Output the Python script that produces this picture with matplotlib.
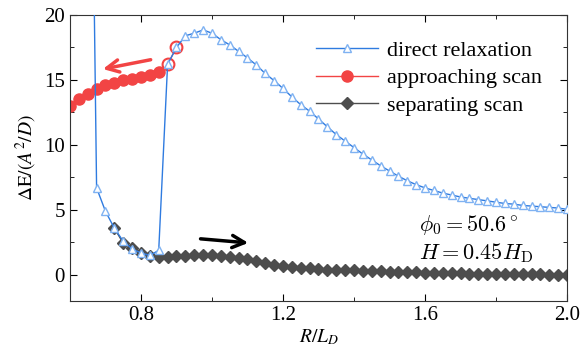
import matplotlib
matplotlib.use('Agg')
import matplotlib.pyplot as plt
import numpy as np

plt.rcParams['font.family'] = ['Liberation Serif', 'DejaVu Serif']
plt.rcParams['mathtext.fontset'] = 'stix'

# direct relaxation
r_direct = [0.65, 0.675, 0.70, 0.725, 0.75, 0.775, 0.80, 0.825, 0.85, 0.875,
            0.90, 0.925, 0.95, 0.975, 1.0, 1.025, 1.05, 1.075, 1.1, 1.125,
            1.15, 1.175, 1.2, 1.225, 1.25, 1.275, 1.3, 1.325, 1.35, 1.375,
            1.4, 1.425, 1.45, 1.475, 1.5, 1.525, 1.55, 1.575, 1.6, 1.625,
            1.65, 1.675, 1.7, 1.725, 1.75, 1.775, 1.8, 1.825, 1.85, 1.875,
            1.9, 1.925, 1.95, 1.975, 2.0]
e_direct = [60.0, 6.7, 4.9, 3.6, 2.6, 2.0, 1.7, 1.5, 1.9, 16.2,
            17.5, 18.4, 18.6, 18.85, 18.6, 18.1, 17.7, 17.2, 16.7, 16.15,
            15.5, 14.95, 14.35, 13.7, 13.1, 12.6, 12.0, 11.4, 10.8, 10.3,
            9.8, 9.3, 8.85, 8.4, 8.0, 7.6, 7.25, 6.95, 6.7, 6.5,
            6.3, 6.15, 6.0, 5.9, 5.8, 5.7, 5.6, 5.5, 5.45, 5.35,
            5.3, 5.25, 5.2, 5.15, 5.05]

# approaching scan
r_appr = [0.60, 0.625, 0.65, 0.675, 0.70, 0.725, 0.75, 0.775, 0.80, 0.825,
          0.85, 0.875, 0.90]
e_appr = [13.0, 13.55, 13.95, 14.3, 14.6, 14.8, 15.0, 15.1, 15.2, 15.35,
          15.65, 16.2, 17.5]

# separating scan
r_sep = [0.725, 0.75, 0.775, 0.80, 0.825, 0.85, 0.875, 0.90, 0.925, 0.95,
         0.975, 1.0, 1.025, 1.05, 1.075, 1.1, 1.125, 1.15, 1.175, 1.2,
         1.225, 1.25, 1.275, 1.3, 1.325, 1.35, 1.375, 1.4, 1.425, 1.45,
         1.475, 1.5, 1.525, 1.55, 1.575, 1.6, 1.625, 1.65, 1.675, 1.7,
         1.725, 1.75, 1.775, 1.8, 1.825, 1.85, 1.875, 1.9, 1.925, 1.95,
         1.975, 2.0]
e_sep = [3.6, 2.45, 2.1, 1.7, 1.45, 1.35, 1.4, 1.45, 1.45, 1.5,
         1.52, 1.5, 1.45, 1.4, 1.3, 1.2, 1.05, 0.92, 0.8, 0.7,
         0.62, 0.55, 0.5, 0.45, 0.42, 0.4, 0.37, 0.35, 0.33, 0.3,
         0.28, 0.26, 0.24, 0.22, 0.2, 0.18, 0.16, 0.15, 0.14, 0.12,
         0.11, 0.1, 0.09, 0.08, 0.07, 0.06, 0.05, 0.05, 0.04, 0.03,
         0.03, 0.02]

blue = '#2f7be0'
red = '#f24444'
gray = '#4d4d4d'

fig = plt.figure(figsize=(5.83, 3.47), dpi=100)
ax = fig.add_axes([0.120, 0.1326, 0.8526, 0.8242])

ax.plot(r_appr, e_appr, '-o', color=red, ms=8, lw=1, label='approaching scan', zorder=2)
ax.plot(r_appr[-2:], e_appr[-2:], 'o', color=red, mfc='white', ms=8.5, mew=1.5, zorder=2.5)
ax.plot(r_sep, e_sep, '-D', color=gray, ms=6.5, lw=1, label='separating scan', zorder=2)
ax.plot(r_direct, e_direct, '-^', color=blue, ms=6, lw=1, mfc='white',
        mec='#7fb2f2', mew=1, label='direct relaxation', zorder=3)

ax.annotate('', xy=(0.685, 15.8), xytext=(0.835, 16.6),
            arrowprops=dict(arrowstyle='->', color=red, lw=2.5, mutation_scale=22))
ax.annotate('', xy=(1.11, 2.45), xytext=(0.96, 2.8),
            arrowprops=dict(arrowstyle='->', color='black', lw=2.5, mutation_scale=22))

ax.text(1.583, 3.4, r'$\phi_0 = 50.6^\circ$', fontsize=16, math_fontfamily='cm')
ax.text(1.583, 1.2, r'$H = 0.45H_\mathrm{D}$', fontsize=16, math_fontfamily='cm')

ax.set_xlim(0.6, 2.0)
ax.set_ylim(-2, 20)
ax.set_xticks([0.8, 1.2, 1.6, 2.0])
ax.set_xticks([1.0, 1.4, 1.8], minor=True)
ax.set_yticks([0, 5, 10, 15, 20])
ax.set_yticks([-2.5 + 5 * i for i in range(1, 5)], minor=True)
ax.tick_params(direction='in', which='both', top=True, right=True, labelsize=15)
ax.tick_params(which='major', length=5)
ax.tick_params(which='minor', length=3)
for s in ax.spines.values():
    s.set_color('#333333')

ax.set_xlabel(r'$R/L_D$', fontsize=14, labelpad=2)
ax.set_ylabel(r'$\Delta\mathrm{E}/(A^2/D)$', fontsize=14, labelpad=4)

h, l = ax.get_legend_handles_labels()
order = [2, 0, 1]
ax.legend([h[i] for i in order], [l[i] for i in order], loc='upper right',
          bbox_to_anchor=(0.99, 0.98), frameon=False, fontsize=16,
          handlelength=2.8, handletextpad=0.4, labelspacing=0.3)

plt.savefig('out.png', dpi=100)
